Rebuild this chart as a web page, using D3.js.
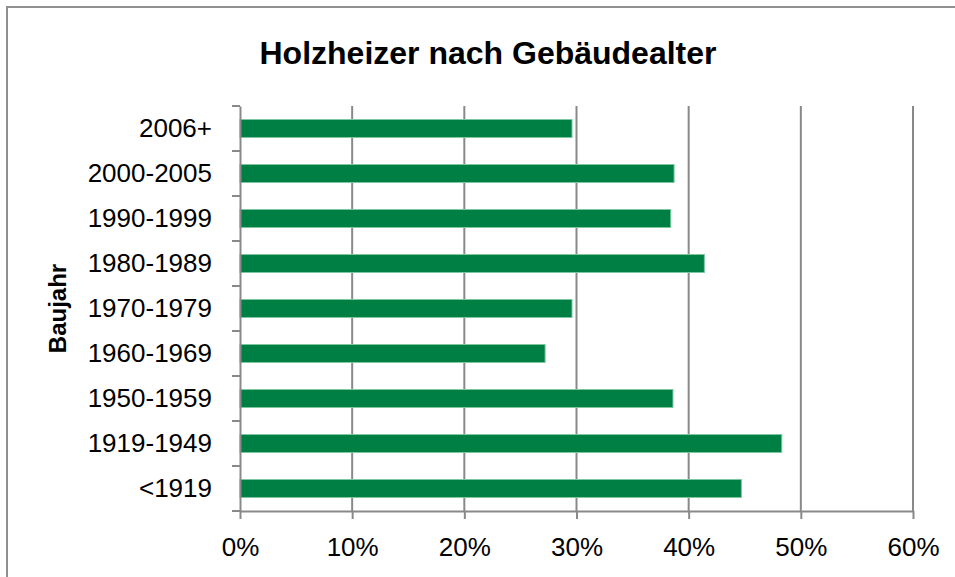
<!DOCTYPE html>
<html>
<head>
<meta charset="utf-8">
<script src="https://cdn.jsdelivr.net/npm/d3@7"></script>
<style>
  body { margin: 0; background: #fff; }
  text { font-family: "Liberation Sans", Arial, sans-serif; fill: #000; }
</style>
</head>
<body>
<div id="app"></div>
<script>
const categories = ["2006+", "2000-2005", "1990-1999", "1980-1989", "1970-1979",
                    "1960-1969", "1950-1959", "1919-1949", "<1919"],
      shares     = [0.296, 0.387, 0.384, 0.414, 0.296, 0.272, 0.386, 0.483, 0.447],
      xTicks     = [0, 0.1, 0.2, 0.3, 0.4, 0.5, 0.6];

const W = 955, H = 577,
      plot = { left: 240, right: 913, top: 106, bottom: 511 },
      grey = "#898989";

const x = d3.scaleLinear().domain([0, 0.6]).range([plot.left, plot.right]);
const y = d3.scaleBand().domain(categories).range([plot.top, plot.bottom])
  .paddingInner(0.6).paddingOuter(0.3);

const svg = d3.select("#app").append("svg")
  .attr("width", W).attr("height", H);

/* Rahmen */
svg.append("rect")
  .attr("x", 7).attr("y", 7).attr("width", 980).attr("height", 620)
  .attr("fill", "#fff").attr("stroke", "#8f8f8f").attr("stroke-width", 2);

/* Titel */
svg.append("text")
  .attr("x", 488).attr("y", 64)
  .attr("text-anchor", "middle")
  .style("font-size", "32px").style("font-weight", "bold")
  .text("Holzheizer nach Gebäudealter");

/* Gitterlinien */
svg.append("g").selectAll("line")
  .data(xTicks.slice(1))
  .join("line")
    .attr("x1", d => x(d)).attr("x2", d => x(d))
    .attr("y1", plot.top).attr("y2", plot.bottom)
    .attr("stroke", grey).attr("stroke-width", 2);

/* Balken */
svg.append("g").selectAll("rect")
  .data(categories)
  .join("rect")
    .attr("x", x(0))
    .attr("y", d => y(d))
    .attr("width", (d, i) => x(shares[i]) - x(0))
    .attr("height", y.bandwidth())
    .attr("fill", "#007f45")
    .attr("stroke", "#7cc79f").attr("stroke-width", 1);

/* X Achse */
const xAxis = svg.append("g")
  .attr("transform", `translate(0,${plot.bottom})`)
  .call(d3.axisBottom(x).tickValues(xTicks).tickFormat(d3.format(".0%"))
    .tickSize(8).tickPadding(19).tickSizeOuter(0));
xAxis.select(".domain").attr("stroke", grey).attr("stroke-width", 2);
xAxis.selectAll(".tick line").attr("stroke", grey).attr("stroke-width", 2);
xAxis.selectAll(".tick text").style("font-size", "26px")
  .style("font-family", "'Liberation Sans', Arial, sans-serif").attr("fill", "#000");

/* Y Achse */
const yAxis = svg.append("g")
  .attr("transform", `translate(${plot.left},0)`)
  .call(d3.axisLeft(y).tickSize(0).tickPadding(28).tickSizeOuter(0));
yAxis.select(".domain").attr("stroke", grey).attr("stroke-width", 2);
yAxis.selectAll(".tick text").style("font-size", "26px")
  .style("font-family", "'Liberation Sans', Arial, sans-serif").attr("fill", "#000");

/* Trennstriche zwischen Kategorien */
const step = y.step(), half = step * y.paddingInner() / 2;
const bounds = categories.map(c => y(c) - half).concat([y(categories[categories.length - 1]) + y.bandwidth() + half]);
svg.append("g").selectAll("line")
  .data(bounds)
  .join("line")
    .attr("x1", plot.left - 8).attr("x2", plot.left)
    .attr("y1", d => d).attr("y2", d => d)
    .attr("stroke", grey).attr("stroke-width", 2);

/* Achsentitel */
svg.append("text")
  .attr("transform", `translate(66,${(plot.top + plot.bottom) / 2}) rotate(-90)`)
  .attr("text-anchor", "middle")
  .style("font-size", "24px").style("font-weight", "bold")
  .text("Baujahr");
</script>
</body>
</html>
